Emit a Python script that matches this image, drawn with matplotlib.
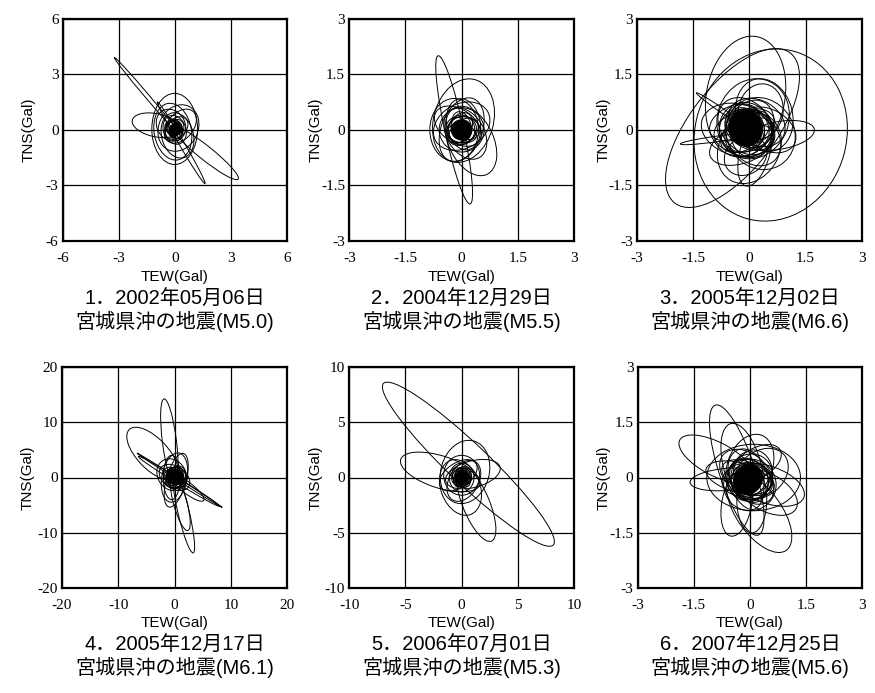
import matplotlib
matplotlib.use('Agg')
import matplotlib.pyplot as plt
from matplotlib.patches import Ellipse

# panel captions
numbers = ['1', '2', '3', '4', '5', '6']
dates = ['2002年05月06日', '2004年12月29日', '2005年12月02日',
         '2005年12月17日', '2006年07月01日', '2007年12月25日']
mags = ['M5.0', 'M5.5', 'M6.6', 'M6.1', 'M5.3', 'M5.6']

# axis ranges and tick labels (Gal)
limits = [6, 3, 3, 20, 10, 3]
ticks = [
    ['-6', '-3', '0', '3', '6'],
    ['-3', '-1.5', '0', '1.5', '3'],
    ['-3', '-1.5', '0', '1.5', '3'],
    ['-20', '-10', '0', '10', '20'],
    ['-10', '-5', '0', '5', '10'],
    ['-3', '-1.5', '0', '1.5', '3'],
]

# orbit loops: (cx, cy, width, height, angle)
p1_loops = [
    (-1.5, 1.85, 5.4, 0.22, -50),
    (0.35, -0.7, 5.1, 0.28, -60),
    (1.65, -1.25, 4.5, 0.75, -39),
    (-1.0, 0.25, 2.6, 1.25, -12),
    (0.0, 0.05, 2.45, 3.85, 0),
    (-0.1, -0.1, 2.0, 3.1, 10),
    (0.2, 0.1, 2.1, 2.6, -25),
    (0.15, -0.3, 1.7, 2.5, 15),
    (0.3, 0.2, 1.4, 2.1, -40),
    (-0.2, 0.25, 1.5, 1.8, 30),
    (0.0, 0.0, 1.2, 1.6, 20),
    (0.1, 0.1, 1.0, 1.4, -45),
]
p1_core = [
    (0.0, 0.0, 0.9, 1.2, -30), (0.05, 0.05, 0.7, 1.1, 20),
    (-0.05, 0.0, 1.0, 0.7, -50), (0.1, -0.1, 0.6, 1.0, 0),
    (0.0, 0.1, 0.8, 0.8, 45), (0.0, 0.0, 0.5, 0.9, -20),
    (-0.1, 0.1, 0.7, 0.9, 60), (0.05, -0.05, 0.6, 0.5, 10),
]
p1_fill = (0.0, 0.0, 0.55, 0.7, -30)

p2_loops = [
    (-0.2, 0.0, 4.1, 0.5, 102),
    (0.05, 0.25, 1.6, 2.3, -15),
    (0.25, -0.3, 1.2, 2.0, 25),
    (-0.2, 0.0, 1.3, 1.7, 0),
    (0.0, 0.1, 1.6, 1.2, 30),
    (0.0, 0.0, 1.1, 1.8, -20),
    (0.1, -0.1, 1.0, 1.5, 30),
    (-0.1, 0.1, 1.4, 0.9, -35),
    (0.05, 0.15, 0.9, 1.4, 10),
    (0.0, 0.0, 1.2, 1.2, 0),
]
p2_core = [
    (0.0, 0.0, 0.8, 0.7, 20), (-0.05, 0.05, 0.6, 0.9, -30),
    (0.05, -0.05, 0.9, 0.6, 40), (0.0, 0.0, 0.7, 0.8, 0),
    (-0.1, 0.0, 0.7, 0.6, -60), (0.1, 0.05, 0.6, 0.8, 70),
    (0.0, -0.1, 0.8, 0.5, -10), (0.0, 0.1, 0.5, 0.8, 15),
]
p2_fill = (0.0, 0.0, 0.55, 0.55, 0)

p3_loops = [
    (0.57, -0.14, 4.05, 4.7, -15),
    (-0.45, 0.05, 5.1, 2.3, 53),
    (-0.1, 0.9, 2.1, 3.3, -10),
    (-0.9, -0.25, 1.9, 0.15, 8),
    (-0.7, 0.5, 1.75, 0.12, -35),
    (0.8, -0.15, 1.9, 0.75, 10),
    (0.1, 0.3, 1.9, 2.2, -20),
    (0.3, -0.1, 1.8, 2.0, 30),
    (0.0, -0.5, 1.6, 2.0, -30),
    (0.15, -0.6, 0.8, 1.9, -15),
    (-0.3, 0.0, 2.0, 1.4, -15),
    (0.4, 0.4, 1.5, 2.0, 15),
    (-0.2, -0.4, 1.8, 1.0, 20),
    (0.2, 0.2, 1.6, 1.2, -30),
    (-0.1, 0.1, 1.3, 1.7, 40),
    (0.1, -0.2, 1.7, 1.3, -50),
    (-0.4, 0.2, 1.4, 0.9, 25),
    (0.3, 0.5, 1.2, 1.5, -10),
    (-0.1, -0.7, 1.2, 1.0, 35),
    (0.5, 0.0, 1.1, 1.6, 60),
]
p3_core = [
    (-0.1, 0.0, 1.4, 1.5, 20), (0.0, 0.05, 1.2, 1.6, -30),
    (-0.15, -0.05, 1.6, 1.1, 10), (0.0, 0.0, 1.0, 1.4, 60),
    (-0.05, 0.1, 1.3, 1.0, -45), (0.05, -0.1, 1.1, 1.3, 5),
    (-0.2, 0.0, 1.2, 1.2, 0), (0.1, 0.1, 0.9, 1.2, -70),
    (-0.1, -0.05, 1.5, 0.9, 35), (0.0, 0.0, 0.8, 1.0, 15),
]
p3_fill = (-0.1, 0.05, 0.9, 1.0, 20)

p4_loops = [
    (-0.9, 6.5, 15.5, 2.5, 97),
    (1.6, -6.2, 15.2, 2.0, -77),
    (1.0, -4.5, 10.5, 2.4, -75),
    (-3.9, 4.3, 12.0, 5.5, 133),
    (0.9, -0.5, 18.0, 0.35, -33),
    (0.8, -0.7, 17.0, 0.9, -32),
    (2.3, -1.9, 7.3, 2.0, -38),
    (0.0, 0.0, 4.5, 9.0, -10),
    (0.3, -0.5, 3.5, 10.0, -15),
    (-0.5, 0.5, 5.0, 6.0, 30),
    (0.0, 0.0, 6.0, 4.0, -35),
    (-0.5, 0.0, 3.0, 8.0, 0),
]
p4_core = [
    (0.0, 0.0, 4.0, 3.6, 20), (0.2, 0.1, 3.2, 4.2, -30),
    (-0.1, 0.0, 4.4, 2.8, -45), (0.1, -0.1, 3.0, 3.8, 10),
    (0.0, 0.2, 3.5, 3.0, 60), (0.2, 0.0, 2.6, 4.0, -10),
]
p4_fill = (0.1, 0.1, 2.8, 2.8, 0)

p5_loops = [
    (0.6, 1.2, 21.0, 3.6, -44),
    (-1.9, 0.5, 7.4, 2.9, -18),
    (1.0, 0.3, 5.0, 2.4, 15),
    (0.3, 0.5, 4.3, 5.8, -15),
    (1.3, -2.4, 7.2, 2.4, -68),
    (-0.1, -0.9, 3.5, 5.2, 20),
    (0.0, 0.2, 3.2, 3.6, 0),
    (0.2, -0.3, 2.6, 4.0, -30),
    (-0.3, 0.2, 3.8, 2.2, 35),
    (0.0, 0.0, 2.2, 2.6, 0),
]
p5_core = [
    (0.0, 0.0, 1.8, 1.6, 20), (0.05, 0.05, 1.4, 2.0, -30),
    (-0.05, 0.0, 2.0, 1.3, -50), (0.0, -0.05, 1.5, 1.8, 40),
    (0.0, 0.1, 1.2, 1.6, 0), (0.1, 0.0, 1.7, 1.2, 70),
]
p5_fill = (0.0, 0.0, 1.2, 1.3, -20)

p6_loops = [
    (-0.35, 0.2, 3.7, 0.95, 108),
    (-0.9, 0.5, 2.2, 0.9, -28),
    (-0.6, -0.05, 2.0, 0.6, 5),
    (0.5, -0.2, 2.0, 1.0, -20),
    (0.45, -0.4, 1.8, 1.0, -30),
    (0.25, -0.95, 1.2, 2.5, 35),
    (-0.35, -0.7, 0.8, 1.8, -10),
    (0.05, -0.6, 0.8, 1.8, 0),
    (0.0, 0.3, 1.2, 1.8, -20),
    (0.1, 0.0, 2.5, 1.8, 0),
    (-0.2, 0.3, 1.0, 2.4, 15),
    (0.3, 0.1, 1.6, 1.2, 40),
    (0.0, -0.2, 1.4, 1.4, 0),
    (-0.3, 0.0, 1.8, 0.8, -15),
    (0.2, 0.4, 1.4, 0.8, 30),
    (-0.1, 0.1, 1.6, 1.1, -40),
]
p6_core = [
    (0.0, 0.0, 1.2, 1.3, -30), (-0.05, 0.05, 1.0, 1.5, 20),
    (0.05, -0.1, 1.4, 1.0, -50), (0.0, 0.0, 0.9, 1.2, 60),
    (-0.1, -0.05, 1.3, 0.9, 10), (0.05, 0.05, 1.1, 1.4, -10),
    (0.0, -0.1, 1.0, 1.0, 45), (-0.05, 0.0, 1.5, 0.8, -25),
]
p6_fill = (-0.05, -0.05, 0.75, 0.85, -30)

loops = [p1_loops, p2_loops, p3_loops, p4_loops, p5_loops, p6_loops]
cores = [p1_core, p2_core, p3_core, p4_core, p5_core, p6_core]
fills = [p1_fill, p2_fill, p3_fill, p4_fill, p5_fill, p6_fill]

plt.rcParams['font.family'] = ['Liberation Sans', 'Noto Sans CJK JP']

W, H = 875, 693
fig = plt.figure(figsize=(W / 100, H / 100), dpi=100)

# axes boxes in pixels: left, top, right, bottom
boxes = [
    (62.7, 19.0, 286.7, 240.7),
    (349.3, 19.0, 574.0, 240.7),
    (637.0, 19.0, 861.7, 240.7),
    (61.7, 366.7, 287.3, 588.3),
    (349.3, 366.7, 574.0, 588.3),
    (637.5, 366.7, 862.3, 588.3),
]
# text rows (pixel y): x label, caption line 1, caption line 2
text_rows = [(277, 299, 321), (623, 645, 667)]

for i, (l, t, r, b) in enumerate(boxes):
    ax = fig.add_axes([l / W, 1 - b / H, (r - l) / W, (b - t) / H])
    lim = limits[i]
    vals = [float(s) for s in ticks[i]]
    ax.set_xlim(-lim, lim)
    ax.set_ylim(-lim, lim)
    ax.set_xticks(vals)
    ax.set_yticks(vals)
    ax.set_xticklabels(ticks[i], family='Liberation Serif', fontsize=11)
    ax.set_yticklabels(ticks[i], family='Liberation Serif', fontsize=11)
    ax.tick_params(length=0)
    ax.tick_params(axis='x', pad=8)
    ax.tick_params(axis='y', pad=3)
    ax.grid(True, color='black', lw=0.9)
    ax.set_axisbelow(True)
    for s in ax.spines.values():
        s.set_linewidth(1.6)

    for cx, cy, w, h, a in loops[i] + cores[i]:
        ax.add_patch(Ellipse((cx, cy), w, h, angle=a, fill=False,
                             ec='black', lw=0.7))
    cx, cy, w, h, a = fills[i]
    ax.add_patch(Ellipse((cx, cy), w, h, angle=a, fc='black', ec='black', lw=0.7))

    hpx = b - t
    ylab, ycap1, ycap2 = text_rows[i // 3]
    ax.set_xlabel('TEW(Gal)', fontsize=11)
    ax.set_ylabel('TNS(Gal)', fontsize=11)
    ax.xaxis.set_label_coords(0.5, -(ylab - b) / hpx)
    ax.xaxis.label.set_va('center')
    ax.yaxis.set_label_coords(-0.15, 0.5)
    ax.yaxis.label.set_va('center')

    ax.text(0.5, -(ycap1 - b) / hpx, numbers[i] + '．' + dates[i],
            transform=ax.transAxes, ha='center', va='center', fontsize=14.5)
    ax.text(0.5, -(ycap2 - b) / hpx, '宮城県沖の地震(' + mags[i] + ')',
            transform=ax.transAxes, ha='center', va='center', fontsize=14.5)

fig.savefig('out.png', dpi=100)
